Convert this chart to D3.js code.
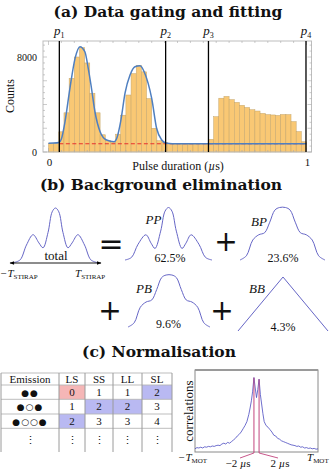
<!DOCTYPE html>
<html>
<head>
<meta charset="utf-8">
<script src="https://cdn.jsdelivr.net/npm/d3@7"></script>
<style>
  body { margin: 0; background: #fff; }
  svg { display: block; }
  text { font-family: "Liberation Serif", "DejaVu Serif", serif; fill: #111; }
</style>
</head>
<body>
<div id="chart"></div>
<script>
// ---------- (a) histogram data, 50 bins of 0.02 us ----------
const binWidth = 0.02;
const counts = [720, 740, 1700, 3300, 6200, 8000, 8800, 7500, 4950, 3300,
                1450, 950, 880, 1500, 3100, 4800, 6600, 7300, 6750, 4500,
                2000, 950, 820, 700, 690, 710, 700, 690, 700, 710,
                700, 1070, 2970, 4530, 4680, 4410, 4180, 3930, 3750, 3560,
                3450, 3250, 3150, 3120, 3080, 3160, 3150, 2560, 1720, 860];
// fitted curve
const fitX = [0, 0.02, 0.04, 0.05, 0.064, 0.083, 0.103, 0.122, 0.141, 0.154, 0.165, 0.18, 0.2, 0.225,
              0.254, 0.266, 0.28, 0.297, 0.316, 0.335, 0.355, 0.372, 0.386, 0.40, 0.419, 0.439, 0.455,
              0.48, 0.6, 0.8, 1.0];
const fitY = [740, 750, 800, 1100, 2550, 5360, 7890, 8870, 8440, 7050, 5600, 3390, 1710, 1010,
              870, 1250, 2600, 5000, 6480, 7180, 7270, 6700, 5800, 4520, 2000, 1010, 760,
              700, 700, 700, 700];
const bgLevel = 700;
const gates = [0.042, 0.454, 0.62, 0.998];
const gateNames = ["1", "2", "3", "4"];
const yTickLabels = [0, 8000];
const xTickLabels = [0, 1];

// ---------- (b) schematic shapes, x in units of T_STIRAP, y normalised ----------
const totalX = [-1, -0.85, -0.7, -0.54, -0.4, -0.3, -0.18, -0.08, 0, 0.08, 0.18, 0.3, 0.4, 0.54, 0.7, 0.85, 1];
const totalY = [0, 0.05, 0.32, 0.51, 0.36, 0.27, 0.55, 0.93, 1, 0.93, 0.55, 0.27, 0.36, 0.51, 0.32, 0.05, 0];
const ppX = [-1, -0.85, -0.7, -0.52, -0.4, -0.31, -0.18, -0.08, 0, 0.08, 0.18, 0.31, 0.4, 0.52, 0.7, 0.85, 1];
const ppY = [0, 0.05, 0.3, 0.48, 0.32, 0.22, 0.55, 0.93, 1, 0.93, 0.55, 0.22, 0.32, 0.48, 0.3, 0.05, 0];
const bpX = [-1, -0.85, -0.7, -0.56, -0.42, -0.3, -0.18, -0.07, 0.07, 0.18, 0.3, 0.42, 0.56, 0.7, 0.85, 1];
const bpY = [0, 0.08, 0.38, 0.48, 0.52, 0.72, 0.95, 1, 1, 0.95, 0.72, 0.52, 0.48, 0.38, 0.08, 0];
const bbX = [-1, 0, 1];
const bbY = [0, 1, 0];
const shares = ["62.5%", "23.6%", "9.6%", "4.3%"];
const shapeNames = ["PP", "BP", "PB", "BB"];

// ---------- (c) table and correlation trace ----------
const tableHead = ["Emission", "LS", "SS", "LL", "SL"];
const emissions = ["●●", "●○●", "●○○●", "⋮"];
const tableVals = [["0", "1", "1", "2"], ["1", "2", "2", "3"], ["2", "3", "3", "4"], ["⋮", "⋮", "⋮", "⋮"]];
const cellMark = [["r", "", "", "b"], ["", "b", "b", ""], ["b", "", "", ""], ["", "", "", ""]];

const corrT = [-48, -46.5, -45, -43.5, -42, -40.5, -39, -37.5, -36, -34.5, -33, -31.5, -30, -28.5, -27, -25.5,
               -24, -22.5, -21, -19.5, -18, -16.5, -15, -13.5, -12, -10.5, -9, -7.5, -6, -5, -4, -3, -2, -1,
               0, 1, 2, 3, 4, 5, 6, 7.5, 9, 10.5, 12, 13.5, 15, 16.5, 18, 19.5, 21, 22.5, 24, 25.5, 27,
               28.5, 30, 31.5, 33, 34.5, 36, 37.5, 39, 40.5, 42, 43.5, 45, 46.5, 48];
const corrV = [0.04, 0.055, 0.05, 0.06, 0.05, 0.065, 0.06, 0.07, 0.065, 0.075, 0.07, 0.08, 0.085, 0.08, 0.1, 0.11,
               0.1, 0.12, 0.11, 0.13, 0.15, 0.17, 0.2, 0.22, 0.25, 0.29, 0.33, 0.38, 0.47, 0.55, 0.64, 0.76, 0.93, 0.8,
               0.68, 0.78, 0.91, 0.72, 0.6, 0.48, 0.38, 0.33, 0.31, 0.28, 0.25, 0.21, 0.2, 0.17, 0.16, 0.14, 0.13,
               0.12, 0.11, 0.1, 0.09, 0.085, 0.08, 0.07, 0.075, 0.06, 0.065, 0.05, 0.055, 0.045, 0.05, 0.04,
               0.045, 0.035, 0.04];
const markT = [-2, 2];
const markLabels = ["−2 µs", "2 µs"];

// ---------------------------------------------------------------
const W = 332, H = 470;
const svg = d3.select("#chart").append("svg").attr("width", W).attr("height", H);
svg.append("rect").attr("width", W).attr("height", H).attr("fill", "#fff");

const titles = ["(a) Data gating and fitting", "(b) Background elimination", "(c) Normalisation"];
const titlePos = [[168, 17], [161, 190], [159, 357]];
svg.selectAll(".title").data(titles).enter().append("text")
  .attr("class", "title")
  .attr("x", (d, i) => titlePos[i][0]).attr("y", (d, i) => titlePos[i][1])
  .attr("text-anchor", "middle")
  .style("font-family", "'DejaVu Serif', serif")
  .style("font-weight", "bold").style("font-size", "15.5px")
  .text(d => d);

// ===== (a) =====
const x = d3.scaleLinear().domain([0, 1]).range([48.5, 306.5]);
const y = d3.scaleLinear().domain([0, 8000]).range([152, 57]);
const fr = { l: 43, r: 311.5, t: 41, b: 152 };

const gA = svg.append("g");
gA.selectAll(".bar").data(counts).enter().append("rect")
  .attr("class", "bar")
  .attr("x", (d, i) => x(i * binWidth))
  .attr("width", x(binWidth) - x(0))
  .attr("y", d => y(d))
  .attr("height", d => y(0) - y(d))
  .attr("fill", "#f9c874")
  .attr("stroke", "#c4a56c").attr("stroke-width", 0.5);

// frame
gA.append("rect").attr("x", fr.l).attr("y", fr.t).attr("width", fr.r - fr.l).attr("height", fr.b - fr.t)
  .attr("fill", "none").attr("stroke", "#bdbdbd").attr("stroke-width", 1);

// ticks
const yt = d3.range(0, 9500, 500);
yt.forEach(v => {
  const len = v % 2000 === 0 ? 4 : 2;
  gA.append("line").attr("x1", fr.l).attr("x2", fr.l + len).attr("y1", y(v)).attr("y2", y(v)).attr("stroke", "#aaa").attr("stroke-width", 0.6);
  gA.append("line").attr("x1", fr.r).attr("x2", fr.r - len).attr("y1", y(v)).attr("y2", y(v)).attr("stroke", "#aaa").attr("stroke-width", 0.6);
});
const xt = d3.range(0, 1.0001, 0.05);
xt.forEach(v => {
  const len = (Math.abs(v) < 1e-6 || Math.abs(v - 1) < 1e-6) ? 4 : 2;
  gA.append("line").attr("x1", x(v)).attr("x2", x(v)).attr("y1", fr.b).attr("y2", fr.b - len).attr("stroke", "#aaa").attr("stroke-width", 0.6);
  gA.append("line").attr("x1", x(v)).attr("x2", x(v)).attr("y1", fr.t).attr("y2", fr.t + len).attr("stroke", "#aaa").attr("stroke-width", 0.6);
});

// background line (dashed)
gA.append("line").attr("x1", x(gates[0])).attr("x2", x(gates[3]))
  .attr("y1", y(bgLevel)).attr("y2", y(bgLevel))
  .attr("stroke", "#e8322e").attr("stroke-width", 1.1).attr("stroke-dasharray", "4,2.5");

// fit
const fitLine = d3.line().x(d => x(d[0])).y(d => y(d[1])).curve(d3.curveMonotoneX);
gA.append("path").datum(fitX.map((v, i) => [v, fitY[i]]))
  .attr("d", fitLine).attr("fill", "none").attr("stroke", "#4f7fc0").attr("stroke-width", 1.5);

// gates
gates.forEach((g, i) => {
  gA.append("line").attr("x1", x(g)).attr("x2", x(g)).attr("y1", fr.t).attr("y2", fr.b)
    .attr("stroke", "#000").attr("stroke-width", 1.3);
  const t = gA.append("text").attr("x", x(g)).attr("y", 35).attr("text-anchor", "middle").style("font-size", "13px");
  t.append("tspan").style("font-style", "italic").text("p");
  t.append("tspan").attr("dy", 2.5).style("font-size", "8px").text(gateNames[i]);
});

// tick labels
yTickLabels.forEach(v => {
  gA.append("text").attr("x", 37).attr("y", y(v) + 3.5).attr("text-anchor", "end").style("font-size", "10px").text(v);
});
xTickLabels.forEach(v => {
  gA.append("text").attr("x", x(v) + 1).attr("y", 166).attr("text-anchor", "middle").style("font-size", "11px").text(v);
});
const xl = gA.append("text").attr("x", 178).attr("y", 170).attr("text-anchor", "middle").style("font-size", "12px");
xl.append("tspan").text("Pulse duration (");
xl.append("tspan").style("font-style", "italic").text("µ");
xl.append("tspan").text("s)");
gA.append("text").attr("transform", "translate(14,96) rotate(-90)").attr("text-anchor", "middle")
  .style("font-size", "12px").text("Counts");

// ===== (b) =====
const gB = svg.append("g");
const shapeColor = "#6666c6";
function drawShape(xs, ys, x0, x1, base, top, curve) {
  const sx = d3.scaleLinear().domain([-1, 1]).range([x0, x1]);
  const sy = d3.scaleLinear().domain([0, 1]).range([base, top]);
  const ln = d3.line().x(d => sx(d[0])).y(d => sy(d[1])).curve(curve);
  gB.append("path").datum(xs.map((v, i) => [v, ys[i]])).attr("d", ln)
    .attr("fill", "none").attr("stroke", shapeColor).attr("stroke-width", 1);
}
const smooth = d3.curveCatmullRom.alpha(0.5);
drawShape(totalX, totalY, 14, 97, 262.5, 208, smooth);
drawShape(ppX, ppY, 125, 212, 260, 207.5, smooth);
drawShape(bpX, bpY, 240, 325, 260, 207.5, smooth);
drawShape(bpX, bpY, 128, 210, 327, 275, smooth);
drawShape(bbX, bbY, 238, 328, 331, 277, d3.curveLinear);

// arrow
const defs = svg.append("defs");
defs.append("marker").attr("id", "ah").attr("viewBox", "0 0 10 10").attr("refX", 9).attr("refY", 5)
  .attr("markerWidth", 6).attr("markerHeight", 5).attr("orient", "auto-start-reverse")
  .append("path").attr("d", "M0,1 L10,5 L0,9 Z").attr("fill", "#000");
gB.append("line").attr("x1", 10).attr("x2", 101).attr("y1", 263).attr("y2", 263)
  .attr("stroke", "#000").attr("stroke-width", 0.9)
  .attr("marker-start", "url(#ah)").attr("marker-end", "url(#ah)");
gB.append("text").attr("x", 56).attr("y", 260).attr("text-anchor", "middle").style("font-size", "13px").text("total");

function tLabel(g, xx, yy, neg, sub, anchor) {
  const t = g.append("text").attr("x", xx).attr("y", yy).attr("text-anchor", anchor).style("font-size", "11px");
  t.append("tspan").style("font-style", "italic").text((neg ? "−" : "") + "T");
  t.append("tspan").attr("dy", 2).style("font-size", "7px").text(sub);
  return t;
}
tLabel(gB, 0, 277, true, "STIRAP", "start");
tLabel(gB, 75, 277, false, "STIRAP", "start");

// = and +
gB.append("text").attr("x", 111).attr("y", 254).attr("text-anchor", "middle")
  .style("font-family", "'DejaVu Sans', sans-serif").style("font-size", "30px").text("=");
const plusPos = [[226, 251], [110, 320], [222, 320]];
plusPos.forEach(p => {
  gB.append("text").attr("x", p[0]).attr("y", p[1]).attr("text-anchor", "middle")
    .style("font-family", "'DejaVu Sans', sans-serif").style("font-size", "28px").text("+");
});

const namePos = [[153.5, 224], [259, 226], [144, 292.5], [257, 292.5]];
const sharePos = [[170, 262], [283, 262], [168.5, 327.5], [283, 331]];
shapeNames.forEach((n, i) => {
  gB.append("text").attr("x", namePos[i][0]).attr("y", namePos[i][1]).attr("text-anchor", "middle")
    .style("font-size", "13px").style("font-style", "italic").text(n);
  gB.append("text").attr("x", sharePos[i][0]).attr("y", sharePos[i][1]).attr("text-anchor", "middle")
    .style("font-size", "12px").text(shares[i]);
});

// ===== (c) table =====
const gC = svg.append("g");
const colX = [1, 59, 85, 113, 142, 172];
const rowY = [373, 385, 399.3, 414, 428.3, 452];
const markColor = { r: "#f5b6b6", b: "#b9b9f2" };
cellMark.forEach((row, r) => row.forEach((m, c) => {
  if (!m) return;
  gC.append("rect").attr("x", colX[c + 1]).attr("y", rowY[r + 1])
    .attr("width", colX[c + 2] - colX[c + 1]).attr("height", rowY[r + 2] - rowY[r + 1])
    .attr("fill", markColor[m]);
}));
rowY.slice(0, 5).forEach(yy => {
  gC.append("line").attr("x1", colX[0]).attr("x2", colX[5]).attr("y1", yy).attr("y2", yy)
    .attr("stroke", "#b5b5b5").attr("stroke-width", 0.9);
});
colX.forEach(xx => {
  gC.append("line").attr("x1", xx).attr("x2", xx).attr("y1", rowY[0]).attr("y2", rowY[5])
    .attr("stroke", "#9a9a9a").attr("stroke-width", 1);
});
const cx = i => (colX[i] + colX[i + 1]) / 2;
tableHead.forEach((h, i) => {
  gC.append("text").attr("x", cx(i)).attr("y", rowY[0] + 9.5).attr("text-anchor", "middle")
    .style("font-size", "11px").text(h);
});
emissions.forEach((e, r) => {
  const yy = (rowY[r + 1] + rowY[r + 2]) / 2 + 3.5;
  gC.append("text").attr("x", cx(0)).attr("y", yy).attr("text-anchor", "middle")
    .style("font-family", r < 3 ? "'DejaVu Sans', sans-serif" : "'DejaVu Serif', serif")
    .style("font-size", r < 3 ? "9px" : "11px").style("letter-spacing", r < 3 ? "1px" : "0")
    .text(e);
  tableVals[r].forEach((v, c) => {
    gC.append("text").attr("x", cx(c + 1)).attr("y", yy).attr("text-anchor", "middle")
      .style("font-family", r < 3 ? "'Liberation Serif', serif" : "'DejaVu Serif', serif")
      .style("font-size", "11px").text(v);
  });
});

// ===== (c) correlation plot =====
const tx = d3.scaleLinear().domain([-48, 48]).range([195, 318]);
const ty = d3.scaleLinear().domain([0, 1]).range([452, 372]);
gC.append("rect").attr("x", 195).attr("y", 370).attr("width", 123).attr("height", 82)
  .attr("fill", "none").attr("stroke", "#8a8a8a").attr("stroke-width", 1);
gC.append("line").attr("x1", 195).attr("x2", 318).attr("y1", 370).attr("y2", 370)
  .attr("stroke", "#9a9a9a").attr("stroke-width", 2);
const trace = d3.line().x(d => tx(d[0])).y(d => ty(d[1]));
gC.append("path").datum(corrT.map((t, i) => [t, corrV[i]])).attr("d", trace)
  .attr("fill", "none").attr("stroke", "#4a4ac0").attr("stroke-width", 0.8);

const labelX = [238, 280];
markT.forEach((t, i) => {
  const top = ty(corrV[corrT.indexOf(t)]);
  gC.append("line").attr("x1", tx(t)).attr("x2", tx(t)).attr("y1", top).attr("y2", 453)
    .attr("stroke", "#c2457e").attr("stroke-width", 1);
  gC.append("line").attr("x1", tx(t)).attr("x2", labelX[i] + (i === 0 ? 2 : -2)).attr("y1", 453).attr("y2", 458)
    .attr("stroke", "#c2457e").attr("stroke-width", 0.9);
  const parts = markLabels[i].split(" ");
  const lt = gC.append("text").attr("x", labelX[i]).attr("y", 467).attr("text-anchor", "middle").style("font-size", "11px");
  lt.append("tspan").text(parts[0] + " ");
  lt.append("tspan").style("font-style", "italic").text("µ");
  lt.append("tspan").text("s");
});
tLabel(gC, 178, 461, true, "MOT", "start");
tLabel(gC, 307, 461, false, "MOT", "start");
gC.append("text").attr("transform", "translate(193,411) rotate(-90)").attr("text-anchor", "middle")
  .style("font-size", "13px").text("correlations");
</script>
</body>
</html>
